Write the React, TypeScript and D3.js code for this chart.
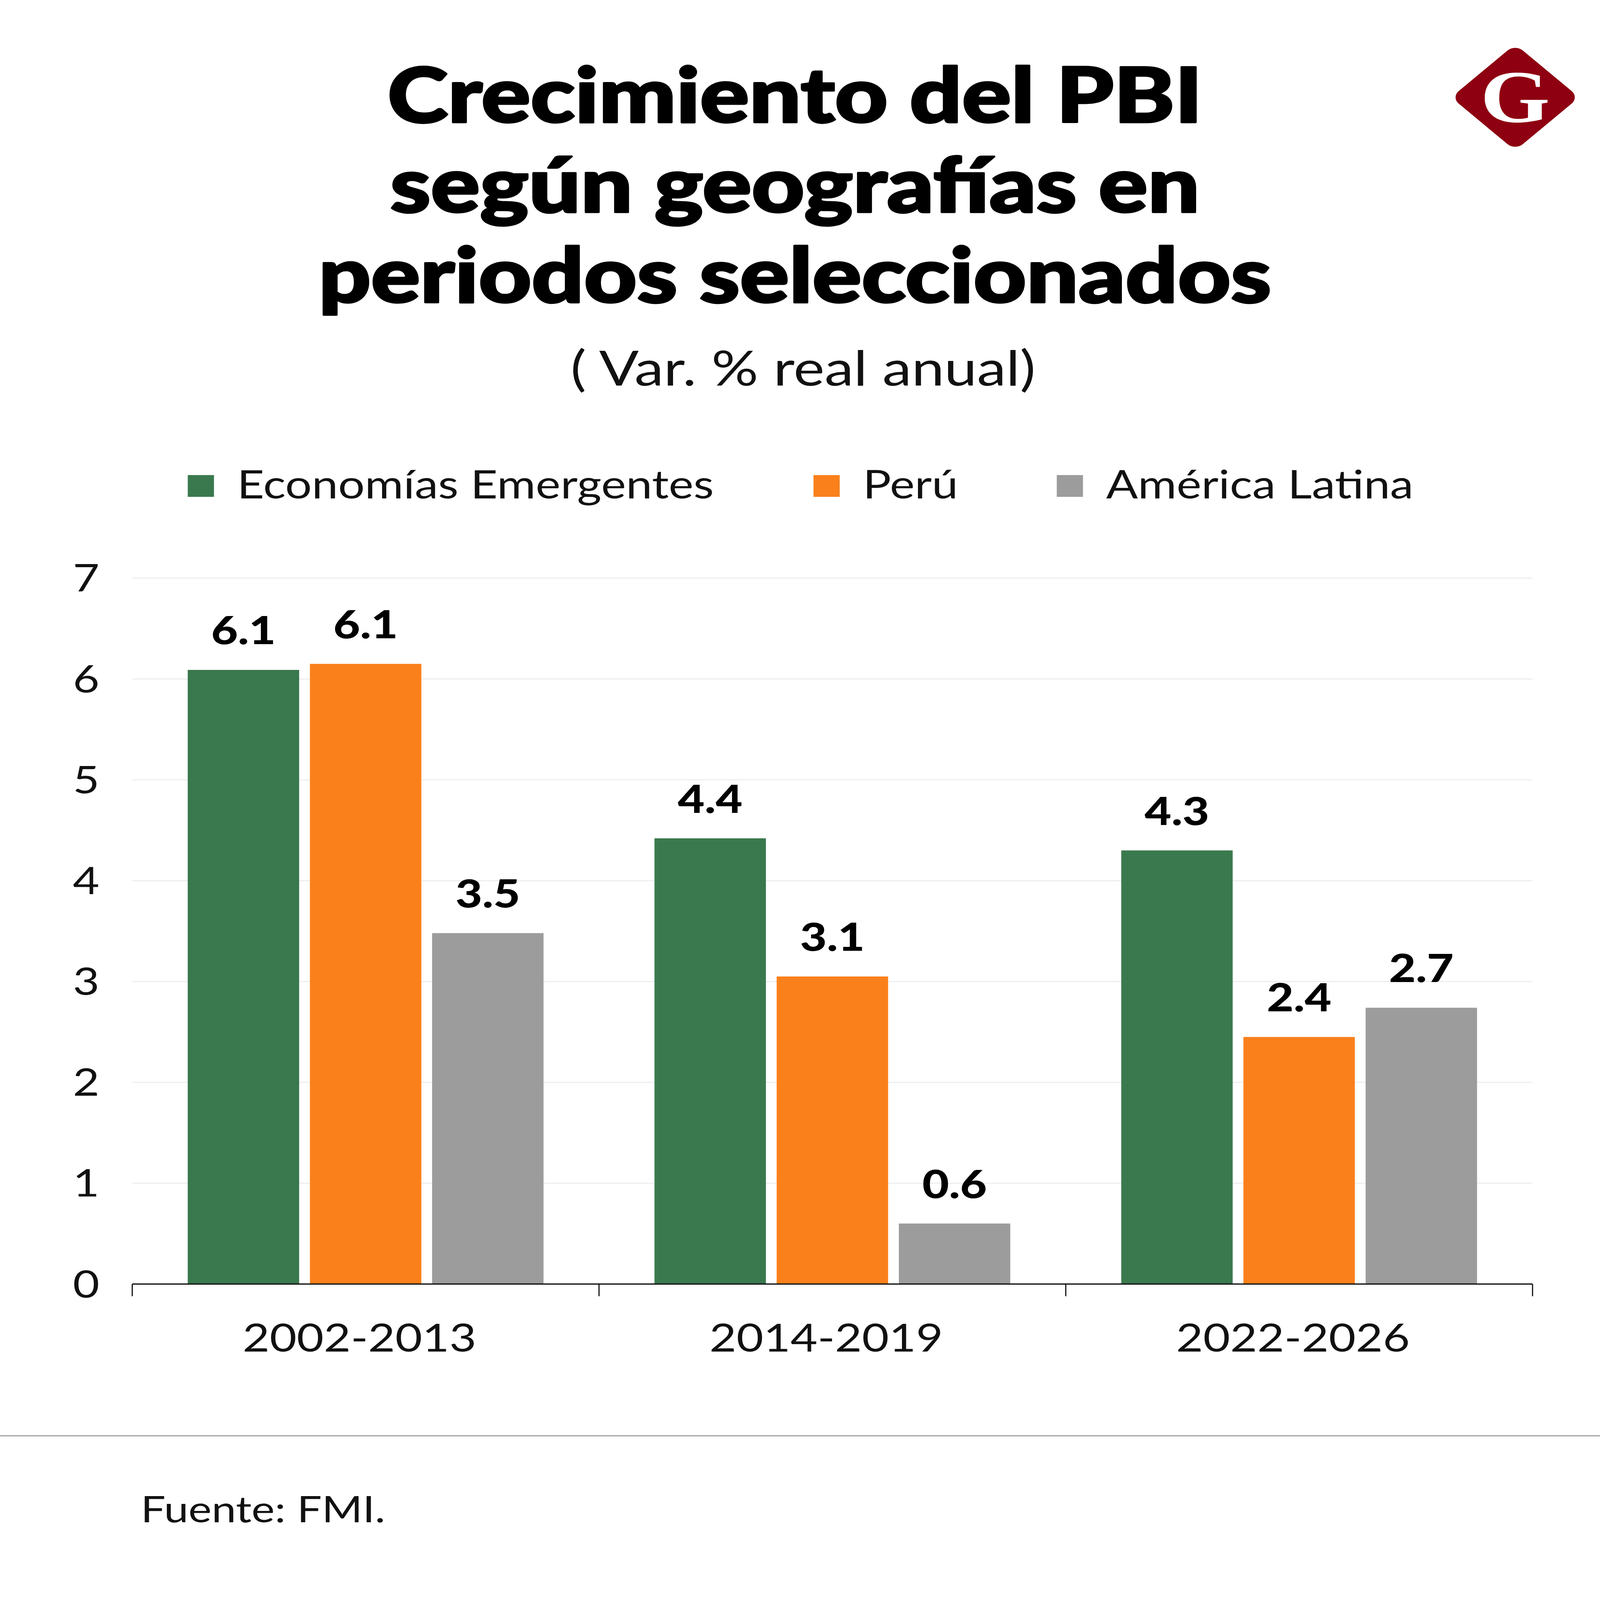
import React from "react";
import * as d3 from "d3";

const categories = ["2002-2013", "2014-2019", "2022-2026"];
const seriesNames = ["Economías Emergentes", "Perú", "América Latina"];
const emergentes = [6.09, 4.42, 4.3];
const peru = [6.15, 3.05, 2.45];
const latam = [3.48, 0.6, 2.74];
const emergentesLabels = ["6.1", "4.4", "4.3"];
const peruLabels = ["6.1", "3.1", "2.4"];
const latamLabels = ["3.5", "0.6", "2.7"];
const yTicks = [0, 1, 2, 3, 4, 5, 6, 7];
const titleLines = ["Crecimiento del PBI", "según geografías en", "periodos seleccionados"];
const subtitle = "( Var. % real anual)";
const source = "Fuente: FMI.";

const colors = ["#3a794e", "#fa801b", "#9c9c9c"];
const seriesValues = [emergentes, peru, latam];
const seriesLabels = [emergentesLabels, peruLabels, latamLabels];

const W = 4150;
const H = 4998;
const FONT = "Lato, 'Noto Sans', sans-serif";

export default function App() {
  const left = 343;
  const right = 3975;
  const x0 = d3.scaleBand<string>().domain(categories).range([left, right]).paddingInner(0).paddingOuter(0);
  const x1 = d3
    .scaleBand<string>()
    .domain(seriesNames)
    .range([0, x0.bandwidth()])
    .paddingInner(0.088)
    .paddingOuter(0.454);
  const y = d3.scaleLinear().domain([0, 7]).range([4011, 1806]);

  const boundaries = [...categories.map((c) => x0(c) as number), right];
  const legendX = [487, 2110, 2741];

  return (
    <svg
      viewBox={`0 0 ${W} ${H}`}
      preserveAspectRatio="none"
      style={{ position: "fixed", left: 0, top: 0, width: "100vw", height: "100vh", background: "#fff" }}
      fontFamily={FONT}
    >
      <rect x={0} y={0} width={W} height={H} fill="#fff" />
      {/* Title */}
      {titleLines.map((t, i) => (
        <text
          key={t}
          x={2062}
          y={382 + i * 281}
          textAnchor="middle"
          fontSize={238}
          fontWeight={900}
          fill="#000"
          stroke="#000"
          strokeWidth={6}
          strokeLinejoin="round"
        >
          {t}
        </text>
      ))}
      <text x={2083} y={1204} textAnchor="middle" fontSize={152} fill="#111">
        {subtitle}
      </text>

      {/* Logo */}
      <g transform="translate(3930,304)">
        <rect x={-117.5} y={-117.5} width={235} height={235} rx={28} fill="#8e0011" transform="rotate(45)" />
        <text
          x={0}
          y={77}
          textAnchor="middle"
          fontSize={232}
          fontFamily="'Liberation Serif', 'DejaVu Serif', serif"
          fontWeight={700}
          fill="#fff"
        >
          G
        </text>
      </g>

      {/* Legend */}
      {seriesNames.map((s, i) => (
        <g key={s}>
          <rect x={legendX[i]} y={1484} width={68} height={68} fill={colors[i]} />
          <text x={legendX[i] + 128} y={1557} fontSize={122} fill="#111">
            {s}
          </text>
        </g>
      ))}

      {/* Grid */}
      {yTicks
        .filter((t) => t > 0)
        .map((t) => (
          <line key={t} x1={left} x2={right} y1={y(t)} y2={y(t)} stroke="#ebebeb" strokeWidth={3} />
        ))}
      {yTicks.map((t) => (
        <text key={t} x={258} y={y(t) + 42} textAnchor="end" fontSize={119} fill="#111">
          {t}
        </text>
      ))}

      {/* Bars */}
      {categories.map((c, ci) => (
        <g key={c} transform={`translate(${x0(c)},0)`}>
          {seriesNames.map((s, si) => {
            const v = seriesValues[si][ci];
            const bx = x1(s) as number;
            const bw = x1.bandwidth();
            return (
              <g key={s}>
                <rect x={bx} y={y(v)} width={bw} height={y(0) - y(v)} fill={colors[si]} />
                <text
                  x={bx + bw / 2}
                  y={y(v) - 80}
                  textAnchor="middle"
                  fontSize={120}
                  fontWeight={900}
                  fill="#000"
                >
                  {seriesLabels[si][ci]}
                </text>
              </g>
            );
          })}
        </g>
      ))}

      {/* X axis */}
      <line x1={left} x2={right} y1={y(0)} y2={y(0)} stroke="#111" strokeWidth={4} />
      {boundaries.map((b, i) => (
        <line key={i} x1={b} x2={b} y1={y(0)} y2={y(0) + 38} stroke="#111" strokeWidth={3} />
      ))}
      {categories.map((c) => (
        <text
          key={c}
          x={(x0(c) as number) + x0.bandwidth() / 2 - 16}
          y={4222}
          textAnchor="middle"
          fontSize={121}
          fill="#111"
        >
          {c}
        </text>
      ))}

      {/* Footer */}
      <line x1={0} x2={W} y1={4485} y2={4485} stroke="#a8a8a8" strokeWidth={4} />
      <text x={365} y={4755} fontSize={114} fill="#111">
        {source}
      </text>
    </svg>
  );
}
